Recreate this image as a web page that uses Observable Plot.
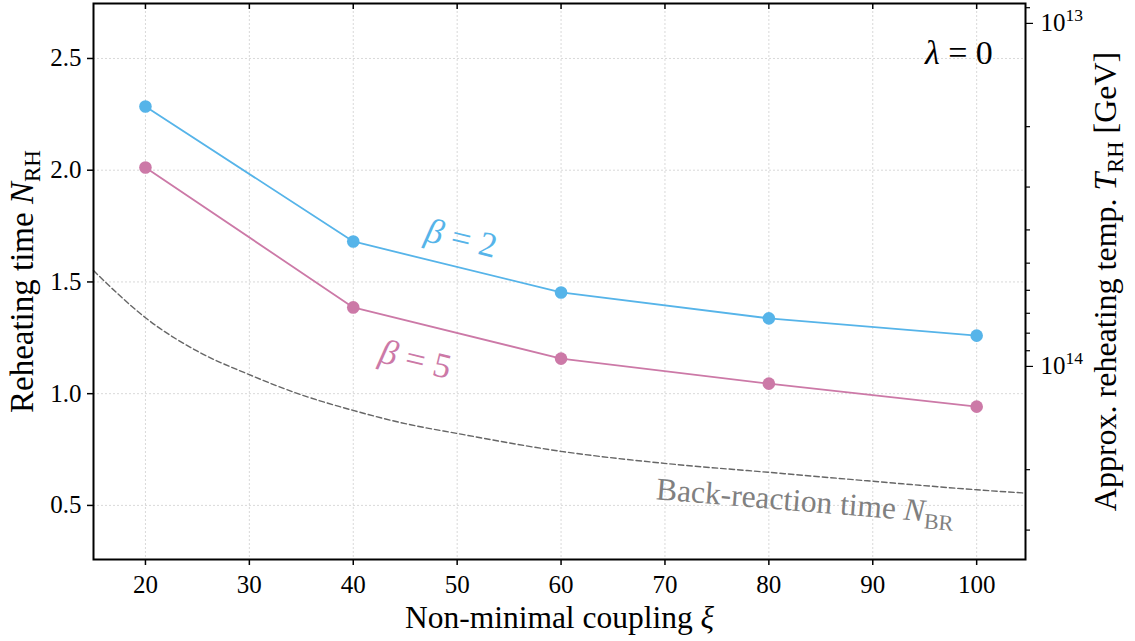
<!DOCTYPE html>
<html><head><meta charset="utf-8">
<script src="https://cdn.jsdelivr.net/npm/d3@7"></script>
<script src="https://cdn.jsdelivr.net/npm/@observablehq/plot@0.6"></script>
<style>
html,body{margin:0;padding:0;background:#fff}
#chart svg{display:block}
#chart svg, #chart svg text, #chart svg tspan{font-family:"Liberation Serif",serif !important}
</style>
</head><body><div id="chart"></div>
<script>
// ---- data ----
const xTicks = [20, 30, 40, 50, 60, 70, 80, 90, 100];
const yTicks = [0.5, 1.0, 1.5, 2.0, 2.5];
const xi = [20, 40, 60, 80, 100];
const nBeta2 = [2.285, 1.681, 1.453, 1.337, 1.260];
const nBeta5 = [2.012, 1.386, 1.157, 1.045, 0.942];
const brXi = [15, 17.5, 20, 25, 30, 35, 40, 45, 50, 60, 70, 80, 90, 100, 104.7];
const brN  = [1.551, 1.44, 1.34, 1.19, 1.085, 0.995, 0.925, 0.866, 0.822, 0.742, 0.688, 0.648, 0.608, 0.570, 0.555];
const tempMajor = [1e13, 1e14];
const tempMajorLabels = ["10^13", "10^14"];
const tempMinor = [9e12, 2e13, 3e13, 4e13, 5e13, 6e13, 7e13, 8e13, 9e13, 2e14, 3e14];
// secondary axis: T_RH ∝ exp(-1.5 N)
const N_AT_1E14 = 1.122, N_PER_DECADE = 1.535;
const tToN = t => N_AT_1E14 - N_PER_DECADE * (Math.log10(t) - 14);

const blue = "#56B4E9", pink = "#CC79A7";
const s2 = xi.map((x, i) => ({x, y: nBeta2[i]}));
const s5 = xi.map((x, i) => ({x, y: nBeta5[i]}));
const br = brXi.map((x, i) => ({x, y: brN[i]}));
const majorN = tempMajor.map(tToN);
const majorLabel = new Map(majorN.map((n, i) => [n, tempMajorLabels[i]]));

const W = 1135, H = 641, mT = 3, mB = 82, mL = 93, mR = 110;
const frameH = H - mT - mB;
const FF = "Liberation Serif";

const grid = {stroke: "#cfcfcf", strokeOpacity: 1, strokeWidth: 0.8, strokeDasharray: "2,2"};

const plot = Plot.plot({
  width: W, height: H,
  marginTop: mT, marginBottom: mB, marginLeft: mL, marginRight: mR,
  style: {fontFamily: FF, fontSize: "25px", background: "white", color: "black"},
  x: {domain: [15, 104.7]},
  y: {domain: [0.258, 2.746]},
  marks: [
    Plot.gridX(xTicks, grid),
    Plot.gridY(yTicks, grid),
    Plot.line(br, {x: "x", y: "y", stroke: "#666666", strokeWidth: 1.4, strokeDasharray: "5.5,3", curve: "monotone-x"}),
    Plot.line(s2, {x: "x", y: "y", stroke: blue, strokeWidth: 1.8}),
    Plot.line(s5, {x: "x", y: "y", stroke: pink, strokeWidth: 1.8}),
    Plot.dot(s2, {x: "x", y: "y", fill: blue, r: 6.3}),
    Plot.dot(s5, {x: "x", y: "y", fill: pink, r: 6.3}),
    Plot.axisX(xTicks, {anchor: "bottom", tickSize: 6, tickPadding: 10, fontSize: 25, fontFamily: FF, fontVariant: "normal", label: null, strokeWidth: 1.5}),
    Plot.ruleX(xTicks, {insetBottom: frameH - 6, stroke: "black", strokeWidth: 1.5}),
    Plot.axisY(yTicks, {anchor: "left", tickSize: 6, tickPadding: 6, fontSize: 25, fontFamily: FF, fontVariant: "normal", label: null, strokeWidth: 1.5, tickFormat: d3.format(".1f")}),
    Plot.axisY(tempMinor.map(tToN), {anchor: "right", tickSize: 4, tickFormat: () => "", label: null, strokeWidth: 1.2}),
    Plot.axisY(majorN, {anchor: "right", tickSize: 7, tickPadding: 8, fontSize: 25, fontFamily: FF, fontVariant: "normal", label: null, strokeWidth: 1.2, tickFormat: d => majorLabel.get(d)}),
    Plot.frame({stroke: "black", strokeWidth: 2}),
    Plot.text(["β = 2"], {x: 50.4, y: 1.695, fill: blue, fontSize: 35, fontFamily: FF, rotate: 13.8}),
    Plot.text(["β = 5"], {x: 46.0, y: 1.153, fill: pink, fontSize: 35, fontFamily: FF, rotate: 13.8}),
    Plot.text(["Back-reaction time N_BR"], {x: 83.5, y: 0.518, fill: "#808080", fontSize: 31.5, fontFamily: FF, rotate: 4.7}),
    Plot.text(["λ = 0"], {x: 97.9, y: 2.525, fill: "black", fontSize: 34, fontFamily: FF, textAnchor: "end", dx: 38}),
    Plot.text(["Non-minimal coupling ξ"], {frameAnchor: "bottom", dy: 68, textAnchor: "middle", lineAnchor: "bottom", fontSize: 31.5, fontFamily: FF}),
    Plot.text(["Reheating time N_RH"], {frameAnchor: "left", dx: -61, rotate: -90, textAnchor: "middle", lineAnchor: "bottom", fontSize: 33, fontFamily: FF}),
    Plot.text(["Approx. reheating temp. T_RH [GeV]"], {frameAnchor: "right", dx: 90, rotate: -90, textAnchor: "middle", lineAnchor: "bottom", fontSize: 32, fontFamily: FF})
  ]
});

// rich text (italics, sub/superscripts)
const rich = {
  "Reheating time N_RH": [["Reheating time "], ["N", "i"], ["RH", "sub"]],
  "Non-minimal coupling ξ": [["Non-minimal coupling "], ["ξ", "i"]],
  "Approx. reheating temp. T_RH [GeV]": [["Approx. reheating temp. "], ["T", "i"], ["RH", "sub"], [" [GeV]"]],
  "Back-reaction time N_BR": [["Back-reaction time "], ["N", "i"], ["BR", "sub"]],
  "β = 2": [["β", "i"], [" = 2"]],
  "β = 5": [["β", "i"], [" = 5"]],
  "λ = 0": [["λ", "i"], [" = 0"]],
  "10^13": [["10"], ["13", "sup"]],
  "10^14": [["10"], ["14", "sup"]]
};
const NS = "http://www.w3.org/2000/svg";
plot.querySelectorAll("text").forEach(el => {
  const key = el.textContent;
  if (!(key in rich) || el.querySelector("tspan")) return;
  while (el.firstChild) el.removeChild(el.firstChild);
  let shift = 0; // current baseline offset in base em (positive = down)
  for (const [t, mode] of rich[key]) {
    const ts = document.createElementNS(NS, "tspan");
    ts.textContent = t;
    if (mode === "i") ts.setAttribute("font-style", "italic");
    if (mode === "sub" || mode === "sup") {
      const target = mode === "sub" ? 0.22 : -0.42;
      ts.setAttribute("font-size", "70%");
      ts.setAttribute("dy", ((target - shift) / 0.7).toFixed(3) + "em");
      shift = target;
    } else if (shift !== 0) {
      ts.setAttribute("dy", (-shift).toFixed(3) + "em");
      shift = 0;
    }
    el.appendChild(ts);
  }
});
document.getElementById("chart").appendChild(plot);
</script>
</body></html>
